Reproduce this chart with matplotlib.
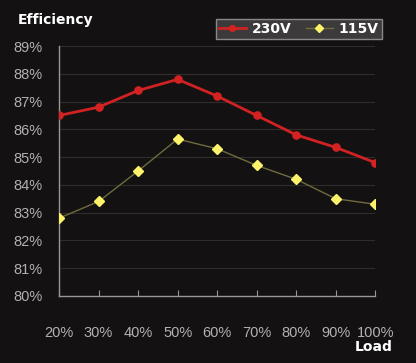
import numpy as np
import matplotlib.pyplot as plt

loads = ["20%", "30%", "40%", "50%", "60%", "70%", "80%", "90%", "100%"]
eff_230 = [86.5, 86.8, 87.4, 87.8, 87.2, 86.5, 85.8, 85.35, 84.8]
eff_115 = [82.8, 83.4, 84.5, 85.65, 85.3, 84.7, 84.2, 83.5, 83.3]
yticks = list(range(80, 90))

BG = "#141112"
GRID = "#302c2c"
TXT = "#b4b0b0"

plt.rcParams["font.family"] = ["Liberation Sans", "DejaVu Sans"]

fig = plt.figure(figsize=(4.16, 3.63), dpi=100, facecolor=BG)
ax = fig.add_axes([0.142, 0.185, 0.76, 0.688], facecolor=BG)
x = np.arange(len(loads))

for y in yticks[1:]:
    ax.axhline(y, color=GRID, lw=0.8, zorder=0)

ax.plot(x, eff_115, color="#6e6c3e", lw=1.0, marker="D", ms=4.8,
        mfc="#fdf36a", mec="#fdf36a", label="115V", zorder=3)
ax.plot(x, eff_230, color="#d02222", lw=2.0, marker="o", ms=5.2,
        mfc="#d42222", mec="#d42222", label="230V", zorder=4)

ax.set_xlim(0, len(loads) - 1)
ax.set_ylim(80, 89)
ax.set_yticks(yticks)
ax.set_yticklabels([f"{v}%" for v in yticks])
ax.set_xticks(x)
ax.set_xticklabels(loads)
for s in ["top", "right"]:
    ax.spines[s].set_visible(False)
for s in ["left", "bottom"]:
    ax.spines[s].set_color("#9a9696")
    ax.spines[s].set_linewidth(1.0)
ax.tick_params(axis="y", length=0, pad=12, colors=TXT, labelsize=10.5)
ax.tick_params(axis="x", direction="in", length=4, color="#9a9696",
               pad=22, labelcolor=TXT, labelsize=10.5)

fig.text(0.043, 0.945, "Efficiency", color="white", fontsize=10,
         fontweight="bold", va="center", family="DejaVu Sans")
fig.text(0.945, 0.045, "Load", color="white", fontsize=10,
         fontweight="bold", ha="right", va="center", family="DejaVu Sans")

h, l = ax.get_legend_handles_labels()
leg = fig.legend(h[::-1], l[::-1], loc="center", bbox_to_anchor=(0.718, 0.92),
                 ncol=2, frameon=True, fancybox=False,
                 handlelength=2.0, columnspacing=1.0, handletextpad=0.4,
                 borderpad=0.2, markerscale=0.8,
                 prop={"weight": "bold", "size": 10, "family": "DejaVu Sans"})
leg.get_frame().set_facecolor("#3c3a3a")
leg.get_frame().set_edgecolor("#8a8888")
leg.get_frame().set_alpha(1)
for t in leg.get_texts():
    t.set_color("white")

fig.savefig("out.png", dpi=100, facecolor=BG)
